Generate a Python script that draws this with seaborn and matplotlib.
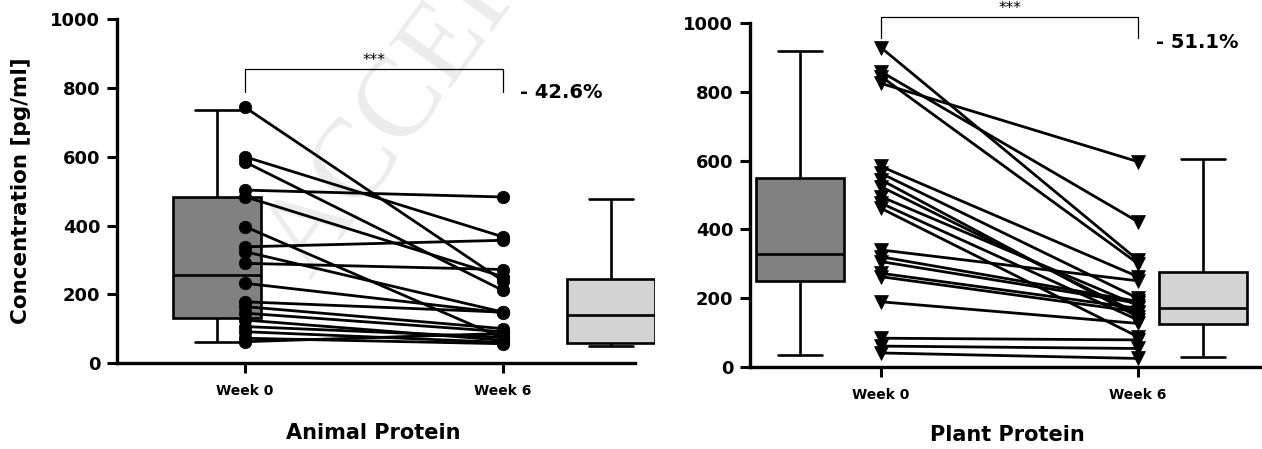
import numpy as np
import pandas as pd
import matplotlib
matplotlib.use("Agg")
import matplotlib.pyplot as plt
import seaborn as sns

# ---------------- data ----------------
weeks = ["Week 0", "Week 6"]
panel_titles = ["Animal Protein", "Plant Protein"]

animal_week0 = [744, 600, 585, 503, 484, 397, 338, 324, 290, 232, 178, 164, 145, 125, 106, 91, 72, 62]
animal_week6 = [239, 367, 211, 483, 251, 72, 357, 148, 272, 146, 148, 100, 91, 66, 75, 60, 56, 86]

plant_week0 = [929, 859, 845, 825, 583, 563, 544, 524, 495, 476, 461, 340, 320, 306, 272, 262, 189, 83, 60, 40]
plant_week6 = [310, 422, 300, 597, 262, 199, 145, 155, 178, 136, 87, 250, 190, 185, 170, 160, 126, 78, 53, 24]

# box summaries: min, Q1, median, Q3, max
animal_box_week0 = [60, 130, 257, 482, 736]
animal_box_week6 = [50, 59, 140, 244, 476]
plant_box_week0 = [34, 250, 328, 549, 920]
plant_box_week6 = [29, 124, 170, 277, 604]

changes = ["- 42.6%", "- 51.1%"]
signif = "***"
y_ticks = [0, 200, 400, 600, 800, 1000]
y_label = "Concentration [pg/ml]"
watermark = "ACCEPTED MANUSCRIPT"

# ---------------- style ----------------
sns.set_style("ticks")
plt.rcParams["font.family"] = ["DejaVu Sans"]
for key in ["text.color", "axes.labelcolor", "xtick.color", "ytick.color",
            "xtick.labelcolor", "ytick.labelcolor"]:
    plt.rcParams[key] = "black"

W, H = 1262, 449
fig = plt.figure(figsize=(W / 100, H / 100), dpi=100)

fig.text(0.262, 0.345, watermark, rotation=54, rotation_mode="anchor",
         fontsize=82, color="#ececec", family="Liberation Serif",
         ha="left", va="bottom", zorder=-5)


def add_axes_px(x0, x1, y_top, y_bot):
    return fig.add_axes([x0 / W, 1 - y_bot / H, (x1 - x0) / W, (y_bot - y_top) / H])


box_colors = ["#818181", "#d3d3d3"]


def draw_panel(ax, w0, w6, boxes, box_pos, marker, ms, xlim, spine_right,
               change, change_xy, bracket, star_y, xlabel, xlabel_xy):
    n = len(w0)
    df = pd.DataFrame({
        "subject": list(range(n)) * 2,
        "week": [weeks[0]] * n + [weeks[1]] * n,
        "value": list(w0) + list(w6),
    })
    df["pos"] = df["week"].map({weeks[0]: 0.0, weeks[1]: 1.0})

    for pos, box, color in zip(box_pos, boxes, box_colors):
        bdf = pd.DataFrame({"pos": [pos] * len(box), "value": box})
        sns.boxplot(data=bdf, x="pos", y="value", native_scale=True,
                    whis=(0, 100), width=0.34, color=color, saturation=1,
                    linecolor="black", linewidth=1.9, fliersize=0, ax=ax)

    sns.lineplot(data=df, x="pos", y="value", units="subject", estimator=None,
                 color="black", lw=2.0, marker=marker, ms=ms, mec="black",
                 mfc="black", mew=0.5, legend=False, ax=ax)

    ax.set_xlim(*xlim)
    ax.set_ylim(0, 1000)
    ax.set_yticks(y_ticks)
    ax.set_xticks([0, 1], weeks)
    ax.tick_params(axis="both", direction="out", length=7, width=2.2,
                   color="black", labelcolor="black")
    ax.tick_params(axis="y", labelsize=13, pad=5)
    ax.tick_params(axis="x", labelsize=10, pad=8)
    for lab in ax.get_yticklabels() + ax.get_xticklabels():
        lab.set_fontweight("bold")
    for s in ["top", "right"]:
        ax.spines[s].set_visible(False)
    for s in ["left", "bottom"]:
        ax.spines[s].set_linewidth(2.4)
        ax.spines[s].set_color("black")
    ax.spines["bottom"].set_bounds(xlim[0], spine_right)
    ax.patch.set_visible(False)

    ax.set_ylabel("")
    ax.set_xlabel(xlabel, fontsize=15, fontweight="bold", color="black")
    ax.xaxis.set_label_coords(*xlabel_xy)

    b_low, b_top = bracket
    ax.plot([0, 0, 1, 1], [b_low, b_top, b_top, b_low], color="black", lw=0.9,
            clip_on=False, zorder=5)
    ax.text(0.5, star_y, signif, ha="center", va="center", fontsize=11,
            color="black", clip_on=False)
    ax.text(change_xy[0], change_xy[1], change, ha="left", va="center",
            fontsize=14, fontweight="bold", color="black", clip_on=False)


ax1 = add_axes_px(117, 655, 19.3, 363)
draw_panel(ax1, animal_week0, animal_week6, [animal_box_week0, animal_box_week6],
           [-0.109, 1.419], "o", 9, (-0.496, 1.589), 1.512,
           changes[0], (1.066, 788), (788, 855), 880, panel_titles[0], (0.476, -0.175))
ax1.set_ylabel(y_label, fontsize=15.5, fontweight="bold", color="black")
ax1.yaxis.set_label_coords(-0.16, 0.5)

ax2 = add_axes_px(750, 1262, 23.3, 366.7)
draw_panel(ax2, plant_week0, plant_week6, [plant_box_week0, plant_box_week6],
           [-0.315, 1.253], "v", 10, (-0.510, 1.482), 1.482,
           changes[1], (1.07, 943), (957, 1017), 1044, panel_titles[1], (0.502, -0.17))

fig.savefig("out.png", dpi=100)
